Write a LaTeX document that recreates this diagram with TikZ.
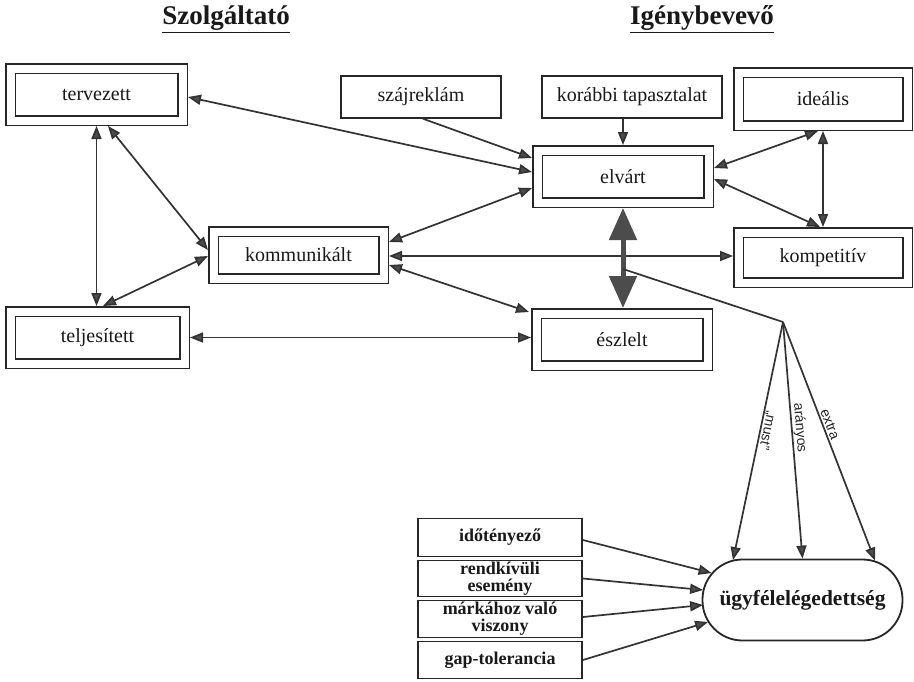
\documentclass[tikz,border=0pt]{standalone}
\usepackage{fontspec}
\setmainfont{Liberation Serif}
\newfontfamily\labelfont{Liberation Sans}
\usetikzlibrary{arrows.meta,calc}
\tikzset{
  dbox/.style={draw=black!85, line width=1.5pt, double=white, double distance=8pt,
    outer sep=5.5pt, inner sep=0pt, font=\fontsize{20}{22}\selectfont, text=black!90},
  sbox/.style={draw=black!85, line width=1.5pt, inner sep=0pt,
    font=\fontsize{20}{22}\selectfont, text=black!90},
  bbox/.style={draw=black!85, line width=1.8pt, inner sep=0pt, minimum width=164pt,
    font=\bfseries\fontsize{18}{17}\selectfont, align=center, text=black!90},
  title/.style={font=\bfseries\fontsize{27}{30}\selectfont, text=black!90},
  tipa/.tip={Triangle[length=13pt,width=10pt,fill=black!70]},
  arr/.style={draw=black!80, line width=1.7pt, -tipa},
  darr/.style={draw=black!80, line width=1.7pt, tipa-tipa},
  plain/.style={draw=black!80, line width=1.7pt},
  thick arrow/.style={draw=black!70, line width=5pt,
    {Triangle[length=32pt,width=27pt]}-{Triangle[length=32pt,width=27pt]}},
  lbl/.style={font=\labelfont\fontsize{14}{14}\selectfont, anchor=south, inner sep=0.5pt, text=black!85}
}
\begin{document}
\begin{tikzpicture}[x=1pt,y=-1pt]
\useasboundingbox[fill=white] (0,0) rectangle (914,681);

% titles
\node[title] (t1) at (226,19) {\underline{Szolgáltató}};
\node[title] (t2) at (702,19) {\underline{Igénybevevő}};

% double boxes
\node[dbox, minimum width=172pt, minimum height=52pt] (terv) at (96.5,94.5) {tervezett};
\node[dbox, minimum width=170pt, minimum height=47pt] (komm) at (298.5,255) {kommunikált};
\node[dbox, minimum width=174pt, minimum height=52pt] (telj) at (97.5,337.5) {teljesített};
\node[dbox, minimum width=171pt, minimum height=52pt] (elv) at (623,176.5) {elvárt};
\node[dbox, minimum width=171pt, minimum height=52pt] (esz) at (622,339.5) {észlelt};
\node[dbox, minimum width=169pt, minimum height=53pt] (ideal) at (823,99) {ideális};
\node[dbox, minimum width=169pt, minimum height=50pt] (komp) at (823,257.5) {kompetitív};

% single boxes
\node[sbox, minimum width=160pt, minimum height=42pt] (szaj) at (421,97) {szájreklám};
\node[sbox, minimum width=180pt, minimum height=42pt] (kor) at (632,97) {korábbi tapasztalat};

% bottom boxes
\node[bbox, minimum height=38pt] (ido) at (500,537.5) {időtényező};
\node[bbox, minimum height=36pt] (rend) at (500,578.5) {rendkívüli\\esemény};
\node[bbox, minimum height=37pt] (mark) at (500,619) {márkához való\\viszony};
\node[bbox, minimum height=37pt] (gap) at (500,660) {gap-tolerancia};

\node[draw=black!85, line width=1.8pt, rounded corners=40pt, minimum width=200pt,
  minimum height=81pt, inner sep=0pt, font=\bfseries\fontsize{21.5}{23}\selectfont, text=black!90]
  (ugy) at (802.5,600) {ügyfélelégedettség};

% helper coordinates
\coordinate (k1) at ($(kor.south)+(-9,0)$);
\coordinate (m1) at ($(komm.east)+(0,1)$);

% connectors
\draw[darr] ($(terv.east)+(0,2.5)$) -- ($(elv.west)+(0,-4.5)$);
\draw[arr] ($(szaj.south)+(2,0)$) -- ($(elv.west)+(0,-18.5)$);
\draw[arr] (k1) -- (k1 |- elv.north);
\draw[darr] ($(komm.east)+(0,-13)$) -- ($(elv.west)+(0,11.5)$);
\draw[darr] (terv.south) -- (terv.south |- telj.north);
\draw[darr] ($(terv.south)+(11.5,0)$) -- ($(komm.west)+(0,-5)$);
\draw[darr] ($(komm.west)+(0,1)$) -- ($(telj.north)+(5.5,0)$);
\draw[darr] (m1) -- (m1 -| komp.west);
\draw[darr] ($(komm.east)+(0,10)$) -- ($(esz.west)+(-2,-27.5)$);
\draw[darr] (telj.east) -- (telj.east -| esz.west);
\draw[darr] ($(elv.east)+(0,-8.5)$) -- ($(ideal.south)+(-5,0)$);
\draw[darr] ($(elv.east)+(0,2.5)$) -- ($(komp.north)+(-3,0)$);
\draw[darr] (ideal.south) -- (ideal.south |- komp.north);

\draw[thick arrow] (elv.south) -- (elv.south |- esz.north);

\coordinate (br) at ($(elv.south)!0.61!(elv.south |- esz.north)$);
\coordinate (fan) at (783,322);
\draw[plain] (br) -- (fan);
\draw[arr] (fan) -- ($(ugy.north)+(-69.5,1.5)$)
  node[lbl, pos=0.45, rotate=-102] {„must”};
\draw[arr] (fan) -- (ugy.north)
  node[lbl, pos=0.45, rotate=-85.4] {arányos};
\draw[arr] (fan) -- ($(ugy.north)+(72.5,2)$)
  node[lbl, pos=0.44, rotate=-68.6, inner sep=1.5pt] {extra};

\draw[arr] ($(ido.east)+(0,2.5)$) -- ($(ugy.west)+(10,-27)$);
\draw[arr] (rend.east) -- ($(ugy.west)+(1.5,-10)$);
\draw[arr] ($(mark.east)+(0,-2)$) -- ($(ugy.west)+(1.5,5)$);
\draw[arr] (gap.east) -- ($(ugy.west)+(6.5,22)$);
\end{tikzpicture}
\end{document}
